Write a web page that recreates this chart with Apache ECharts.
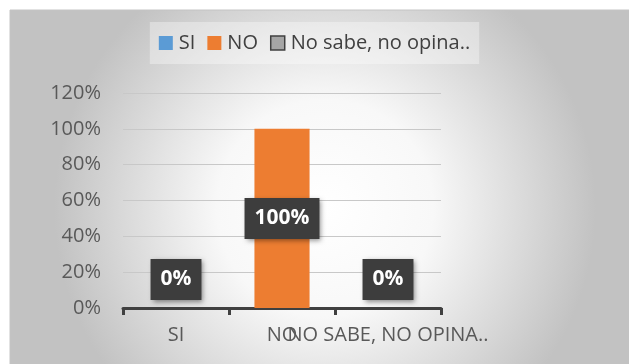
<!DOCTYPE html>
<html>
<head>
<meta charset="utf-8">
<script src="https://cdn.jsdelivr.net/npm/echarts@6/dist/echarts.min.js"></script>
<style>
  html, body { margin: 0; padding: 0; background: #ffffff; }
  #chart { width: 629px; height: 364px; }
</style>
</head>
<body>
<div id="chart"></div>
<script>
// Survey answers, share of respondents per answer
const categories = ['SI', 'NO', 'NO SABE, NO OPINA..'];
const seriesNames = ['SI', 'NO', 'No sabe, no opina..'];
const siValues = [0, '-', '-'];
const noValues = ['-', 1, '-'];
const nsValues = ['-', '-', 0];
const yTicks = [0, 0.2, 0.4, 0.6, 0.8, 1.0, 1.2];

const FONT = '"Open Sans", "Noto Sans", sans-serif';
const colors = ['#5B9BD5', '#ED7D31', '#A5A5A5'];

const chart = echarts.init(document.getElementById('chart'), null, { renderer: 'canvas' });

const labelBox = function (pos) {
  return {
    show: true,
    position: pos,
    distance: 8,
    formatter: function (p) { return Math.round(p.value * 100) + '%'; },
    color: '#ffffff',
    fontFamily: FONT,
    fontWeight: 'bold',
    fontSize: 21,
    lineHeight: 25,
    backgroundColor: '#3d3d3d',
    padding: [8, 10, 8, 10],
    shadowColor: 'rgba(0,0,0,0.45)',
    shadowBlur: 5,
    shadowOffsetX: 2,
    shadowOffsetY: 2
  };
};

const makeSeries = function (name, data, color, pos) {
  return {
    name: name,
    type: 'bar',
    stack: 'answers',
    barWidth: '52%',
    data: data,
    itemStyle: { color: color },
    label: labelBox(pos)
  };
};

chart.setOption({
  animation: false,
  graphic: [{
    type: 'rect',
    z: -10,
    shape: { x: 10, y: 10, width: 630, height: 360 },
    style: {
      fill: {
        type: 'radial', x: 0.5, y: 0.55, r: 0.75,
        colorStops: [
          { offset: 0, color: '#ffffff' },
          { offset: 0.4, color: '#f8f8f8' },
          { offset: 1, color: '#c2c2c2' }
        ]
      },
      stroke: '#c4c4c4',
      lineWidth: 1
    }
  }],
  legend: {
    data: [
      { name: seriesNames[0] },
      { name: seriesNames[1] },
      { name: seriesNames[2], itemStyle: { borderColor: '#404040', borderWidth: 1.5 } }
    ],
    left: 'center',
    top: 22,
    icon: 'rect',
    itemWidth: 14,
    itemHeight: 14,
    itemGap: 12,
    padding: [11, 9, 11, 9],
    backgroundColor: 'rgba(255,255,255,0.35)',
    textStyle: { fontFamily: FONT, fontSize: 20, color: '#404040', padding: [0, 0, 0, 1] }
  },
  grid: { left: 123, right: 188, top: 93, bottom: 56, containLabel: false },
  xAxis: {
    type: 'category',
    data: categories,
    axisLine: { lineStyle: { color: '#404040', width: 3 } },
    axisTick: { show: true, length: 7, lineStyle: { color: '#404040', width: 3 } },
    axisLabel: {
      interval: 0,
      margin: 17,
      fontFamily: FONT,
      fontSize: 20,
      color: '#595959'
    }
  },
  yAxis: {
    type: 'value',
    min: 0,
    max: 1.2,
    interval: 0.2,
    axisLine: { show: false },
    axisTick: { show: false },
    axisLabel: {
      margin: 22,
      fontFamily: FONT,
      fontSize: 20,
      color: '#595959',
      formatter: function (v) {
        const t = yTicks.find(function (x) { return Math.abs(x - v) < 1e-6; });
        return Math.round((t !== undefined ? t : v) * 100) + '%';
      }
    },
    splitLine: { lineStyle: { color: '#c8c8c8', width: 1 } }
  },
  series: [
    makeSeries(seriesNames[0], siValues, colors[0], 'top'),
    makeSeries(seriesNames[1], noValues, colors[1], 'inside'),
    makeSeries(seriesNames[2], nsValues, colors[2], 'top')
  ]
});
</script>
</body>
</html>
